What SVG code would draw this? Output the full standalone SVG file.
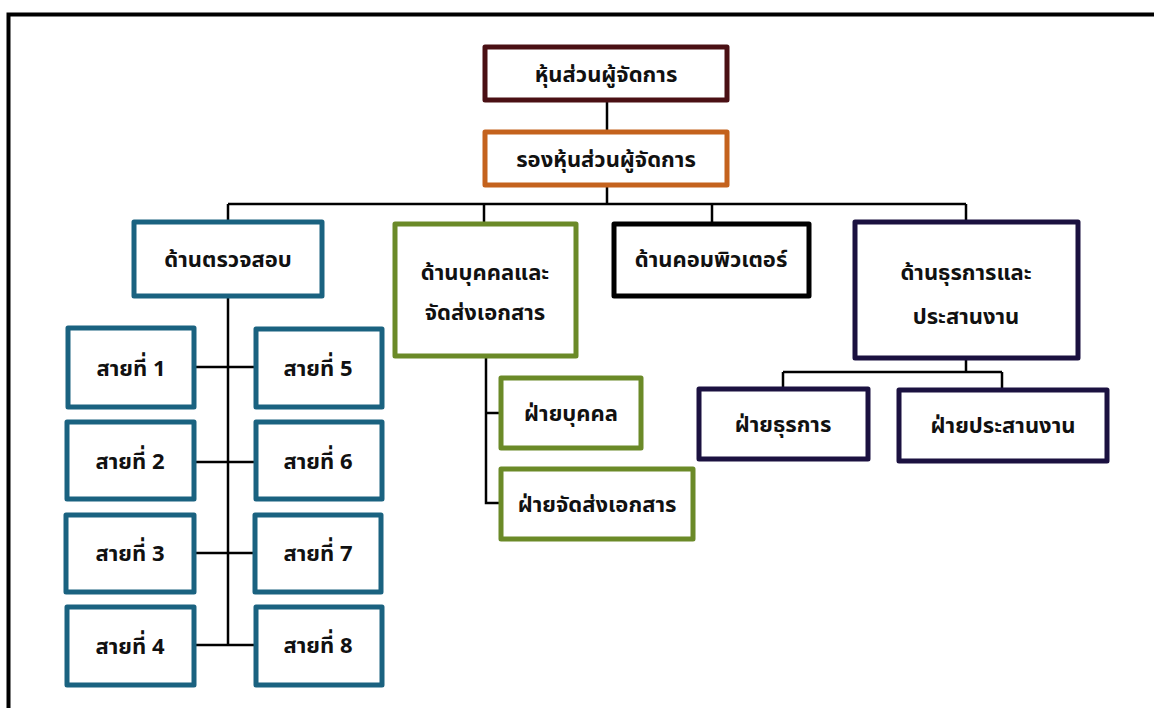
<svg xmlns="http://www.w3.org/2000/svg" width="1154" height="708" viewBox="0 0 1154 708">
<style>
.b{fill:#fff;stroke-width:5;stroke-linejoin:round}
.maroon{stroke:#4a1014}.orange{stroke:#c4621d}.teal{stroke:#1a6280}.green{stroke:#6b8a28}.black{stroke:#000}.navy{stroke:#1b1140}
text{font-family:"Noto Sans Thai","Noto Serif Thai","Noto Sans",sans-serif;font-size:22px;font-weight:bold;fill:#111;text-anchor:middle;dominant-baseline:central}
.c{fill:none;stroke:#000;stroke-width:2.5}
</style>
<rect width="1154" height="708" fill="#fff"/>
<path d="M8.5 708V14.5H1154" fill="none" stroke="#000" stroke-width="4"/>
<g id="connectors" class="c">
<path d="M607 100V130M607 185V204M228 204H966M228 204V220M484 204V222M712 204V222M966 204V220"/>
<path d="M228 296V645M195 367H255M195 462H255M195 553H255M195 645H255"/>
<path d="M486 357V503H500M486 413H500"/>
<path d="M966 360V372M783 372H1002M783 372V388M1002 372V388"/>
</g>
<g id="n-md"><rect class="b maroon" x="485" y="47" width="242" height="53"/><text x="606" y="75">หุ้นส่วนผู้จัดการ</text></g>
<g id="n-dmd"><rect class="b orange" x="485" y="132" width="242" height="53"/><text x="606" y="160">รองหุ้นส่วนผู้จัดการ</text></g>
<g id="n-audit"><rect class="b teal" x="134" y="222" width="188" height="74"/><text x="228" y="260">ด้านตรวจสอบ</text></g>
<g id="n-hr"><rect class="b green" x="395" y="224" width="181" height="132"/><text x="485" y="273">ด้านบุคคลและ</text><text x="485" y="313">จัดส่งเอกสาร</text></g>
<g id="n-comp"><rect class="b black" x="614" y="224" width="195" height="72"/><text x="711" y="260">ด้านคอมพิวเตอร์</text></g>
<g id="n-admin"><rect class="b navy" x="855" y="222" width="223" height="136"/><text x="966" y="273">ด้านธุรการและ</text><text x="966" y="317">ประสานงาน</text></g>
<g id="n-l1"><rect class="b teal" x="68" y="328" width="126" height="79"/><text x="131" y="369">สายที่ 1</text></g>
<g id="n-l2"><rect class="b teal" x="67" y="422" width="127" height="77"/><text x="130" y="462">สายที่ 2</text></g>
<g id="n-l3"><rect class="b teal" x="66" y="515" width="128" height="77"/><text x="130" y="554">สายที่ 3</text></g>
<g id="n-l4"><rect class="b teal" x="67" y="607" width="127" height="78"/><text x="130" y="647">สายที่ 4</text></g>
<g id="n-l5"><rect class="b teal" x="256" y="329" width="126" height="78"/><text x="318" y="369">สายที่ 5</text></g>
<g id="n-l6"><rect class="b teal" x="256" y="422" width="126" height="77"/><text x="318" y="462">สายที่ 6</text></g>
<g id="n-l7"><rect class="b teal" x="255" y="515" width="126" height="77"/><text x="318" y="554">สายที่ 7</text></g>
<g id="n-l8"><rect class="b teal" x="256" y="607" width="126" height="78"/><text x="318" y="646">สายที่ 8</text></g>
<g id="n-person"><rect class="b green" x="501" y="378" width="140" height="70"/><text x="571" y="414">ฝ่ายบุคคล</text></g>
<g id="n-doc"><rect class="b green" x="501" y="469" width="192" height="70"/><text x="597" y="505">ฝ่ายจัดส่งเอกสาร</text></g>
<g id="n-gen"><rect class="b navy" x="699" y="389" width="169" height="70"/><text x="783" y="425">ฝ่ายธุรการ</text></g>
<g id="n-coord"><rect class="b navy" x="899" y="390" width="208" height="71"/><text x="1003" y="426">ฝ่ายประสานงาน</text></g>
</svg>
